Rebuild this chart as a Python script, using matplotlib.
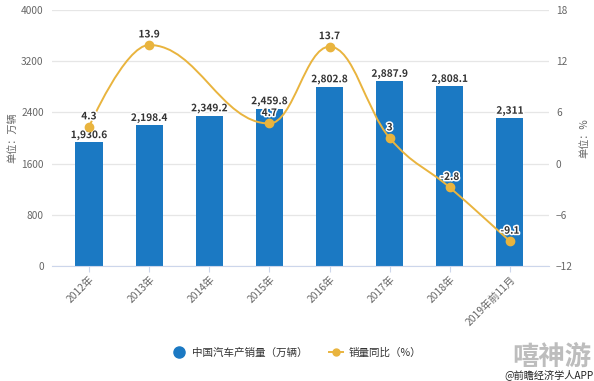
import matplotlib
matplotlib.use("Agg")
import matplotlib.pyplot as plt
import matplotlib.patheffects as pe
from matplotlib.path import Path
from matplotlib.patches import PathPatch
from matplotlib.lines import Line2D
import numpy as np

plt.rcParams['font.family'] = ['Noto Sans CJK SC', 'DejaVu Sans']

#======================================================================================
# DATOS
anios = ["2012年", "2013年", "2014年", "2015年", "2016年", "2017年", "2018年", "2019年前11月"]
ventas = [1930.6, 2198.4, 2349.2, 2459.8, 2802.8, 2887.9, 2808.1, 2311]
ventas_txt = ["1,930.6", "2,198.4", "2,349.2", "2,459.8", "2,802.8", "2,887.9", "2,808.1", "2,311"]
# 2014 sin dato en la serie de crecimiento (la curva lo salta)
crecimiento = [4.3, 13.9, None, 4.7, 13.7, 3, -2.8, -9.1]

left_ticks = [0, 800, 1600, 2400, 3200, 4000]
right_ticks = [-12, -6, 0, 6, 12, 18]

AZUL = "#1b79c3"
ORO = "#e9b43e"
GRIS = "#666666"
OSCURO = "#333333"


def spline_path(xs, ys, sm=1.5):
    # curva tipo "spline" con control bezier
    den = sm + 1
    n = len(xs)
    conts = []
    for i in range(n):
        px, py = xs[i], ys[i]
        if 0 < i < n - 1:
            lx, ly = xs[i - 1], ys[i - 1]
            nx, ny = xs[i + 1], ys[i + 1]
            lcx, lcy = (sm * px + lx) / den, (sm * py + ly) / den
            rcx, rcy = (sm * px + nx) / den, (sm * py + ny) / den
            if rcx != lcx:
                corr = (rcy - lcy) * (rcx - px) / (rcx - lcx) + py - rcy
                lcy += corr
                rcy += corr
            if lcy > ly and lcy > py:
                lcy = max(ly, py); rcy = 2 * py - lcy
            elif lcy < ly and lcy < py:
                lcy = min(ly, py); rcy = 2 * py - lcy
            if rcy > ny and rcy > py:
                rcy = max(ny, py); lcy = 2 * py - rcy
            elif rcy < ny and rcy < py:
                rcy = min(ny, py); lcy = 2 * py - rcy
            conts.append(((lcx, lcy), (rcx, rcy)))
        else:
            conts.append(((px, py), (px, py)))
    verts = [(xs[0], ys[0])]
    codes = [Path.MOVETO]
    for i in range(1, n):
        verts += [conts[i - 1][1], conts[i][0], (xs[i], ys[i])]
        codes += [Path.CURVE4] * 3
    return Path(verts, codes)


#======================================================================================
# PLOTEO
fig = plt.figure(figsize=(5.94, 3.81), dpi=100)
ax = fig.add_axes([52 / 594, 1 - 266 / 381, (549 - 52) / 594, (266 - 10) / 381])
ax2 = ax.twinx()

x = np.arange(len(anios))
ax.bar(x, ventas, width=0.45, color=AZUL, zorder=2)
ax.set_xlim(-0.615, 7.65)
ax.set_ylim(0, 4000)
ax.set_yticks(left_ticks)
ax.set_xticks(x)
ax.set_xticklabels(anios, rotation=45, ha='right', rotation_mode='anchor',
                   fontsize=7.4, color=GRIS)
ax.grid(axis='y', color='#e6e6e6', linewidth=0.9, zorder=0)
ax.tick_params(axis='y', length=0, labelsize=7.3, labelcolor=GRIS, pad=6)
ax.tick_params(axis='x', length=4, color='#ccd6eb', pad=2)
for s in ['top', 'right', 'left']:
    ax.spines[s].set_visible(False)
ax.spines['bottom'].set_color('#ccd6eb')
ax.set_ylabel("单位：万辆", fontsize=7.3, color=GRIS, labelpad=3)

ax2.set_ylim(-12, 18)
ax2.set_yticks(right_ticks)
ax2.tick_params(axis='y', length=0, labelsize=7.3, labelcolor=GRIS, pad=5)
for s in ax2.spines.values():
    s.set_visible(False)
ax2.set_ylabel("单位：%", fontsize=7.3, color=GRIS, labelpad=5, rotation=90)

# linea de crecimiento
xs = [i for i, v in enumerate(crecimiento) if v is not None]
ys = [v for v in crecimiento if v is not None]
ax2.add_patch(PathPatch(spline_path(xs, ys), facecolor='none', edgecolor=ORO,
                        linewidth=1.4, zorder=3))
ax2.plot(xs, ys, 'o', color=ORO, markersize=6, zorder=4)

efecto = [pe.withStroke(linewidth=2.2, foreground='white')]
for i, v in enumerate(ventas):
    ax.annotate(ventas_txt[i], (x[i], v), xytext=(0, 1.5), textcoords='offset points',
                ha='center', va='bottom', fontsize=7.3, fontweight='bold',
                color=OSCURO, path_effects=efecto, zorder=5)
for xi, yi in zip(xs, ys):
    ax2.annotate(f"{yi:g}", (xi, yi), xytext=(0, 4), textcoords='offset points',
                 ha='center', va='bottom', fontsize=7.3, fontweight='bold',
                 color=OSCURO, path_effects=efecto, zorder=6)

# LEYENDA
h1 = Line2D([], [], marker='o', linestyle='none', color=AZUL, markersize=8)
h2 = Line2D([], [], marker='o', linestyle='-', color=ORO, markersize=5, linewidth=1.4)
fig.legend([h1, h2], ["中国汽车产销量（万辆）", "销量同比（%）"], loc='center',
           bbox_to_anchor=(297 / 594, 1 - 353 / 381), ncol=2, frameon=False,
           fontsize=7.6, handlelength=1.3, columnspacing=2.0, handletextpad=0.6,
           labelcolor=OSCURO)

# marcas de agua
fig.text(591 / 594, 1 - 357 / 381, "嘻神游", ha='right', va='center', fontsize=19,
         fontweight='bold', color='#bdbdbd')
fig.text(594 / 594, 1 - 375 / 381, "@前瞻经济学人APP", ha='right', va='center',
         fontsize=7.3, color='#222222')

plt.savefig("out.png", dpi=100)
plt.close(fig)
